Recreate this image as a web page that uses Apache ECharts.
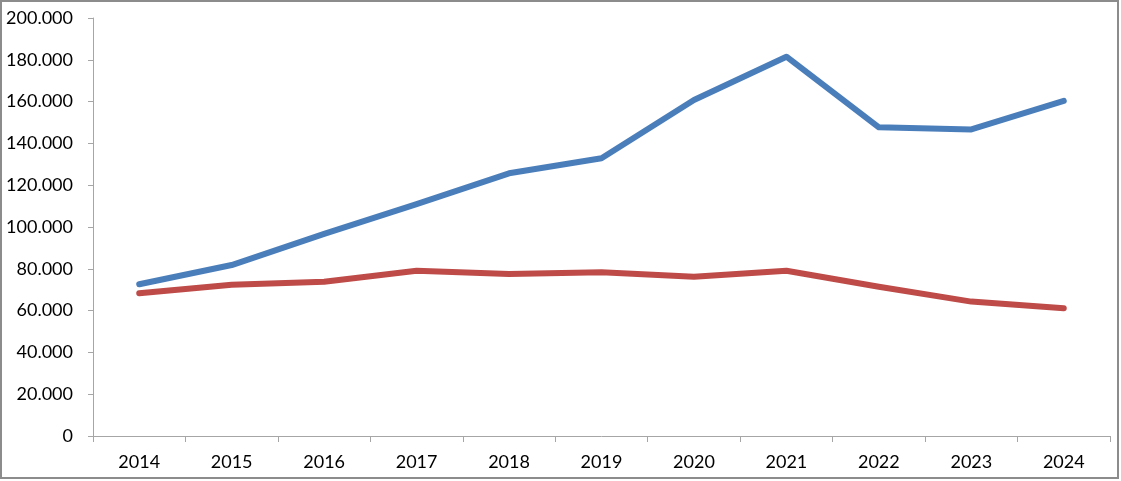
<!DOCTYPE html>
<html>
<head>
<meta charset="utf-8">
<script src="https://cdn.jsdelivr.net/npm/echarts@6/dist/echarts.min.js"></script>
<style>
html,body{margin:0;padding:0;background:#fff;}
#chart{width:1121px;height:481px;}
</style>
</head>
<body>
<div id="chart"></div>
<script>
const categories = ['2014','2015','2016','2017','2018','2019','2020','2021','2022','2023','2024'];
const seriesBlue = [72600, 81800, 96700, 110900, 125700, 132900, 160800, 181500, 147700, 146700, 160400];
const seriesRed = [68300, 72400, 73800, 79100, 77500, 78300, 76200, 79100, 71400, 64300, 61100];
const yMin = 0, yMax = 200000, yStep = 20000;

function fmt(v){
  return String(v).replace(/\B(?=(\d{3})+(?!\d))/g, '.');
}

const chart = echarts.init(document.getElementById('chart'), null, {renderer:'canvas'});
chart.setOption({
  animation: false,
  backgroundColor: '#fff',
  textStyle: {fontFamily: 'Lato'},
  graphic: [{
    type: 'rect', silent: true, z: 100,
    shape: {x: 1, y: 1, width: 1117, height: 477},
    style: {fill: 'none', stroke: '#8c8c8c', lineWidth: 2}
  }],
  grid: {left: 93, right: 11, top: 18, bottom: 45, containLabel: false},
  xAxis: {
    type: 'category',
    data: categories,
    boundaryGap: true,
    axisLine: {lineStyle: {color: '#a6a6a6', width: 1}},
    axisTick: {show: true, length: 6, lineStyle: {color: '#a6a6a6'}},
    axisLabel: {color: '#000', fontSize: 18, fontFamily: 'Lato', margin: 17}
  },
  yAxis: {
    type: 'value',
    min: yMin, max: yMax, interval: yStep,
    axisLine: {show: true, lineStyle: {color: '#a6a6a6', width: 1}},
    axisTick: {show: true, length: 5, lineStyle: {color: '#a6a6a6'}},
    splitLine: {show: false},
    axisLabel: {color: '#000', fontSize: 18, fontFamily: 'Lato', margin: 20, formatter: fmt}
  },
  series: [
    {type: 'line', data: seriesBlue, symbol: 'none', lineStyle: {color: '#4A7EBB', width: 6, cap: 'round', join: 'round'}},
    {type: 'line', data: seriesRed, symbol: 'none', lineStyle: {color: '#BE4B48', width: 6, cap: 'round', join: 'round'}}
  ]
});
</script>
</body>
</html>
